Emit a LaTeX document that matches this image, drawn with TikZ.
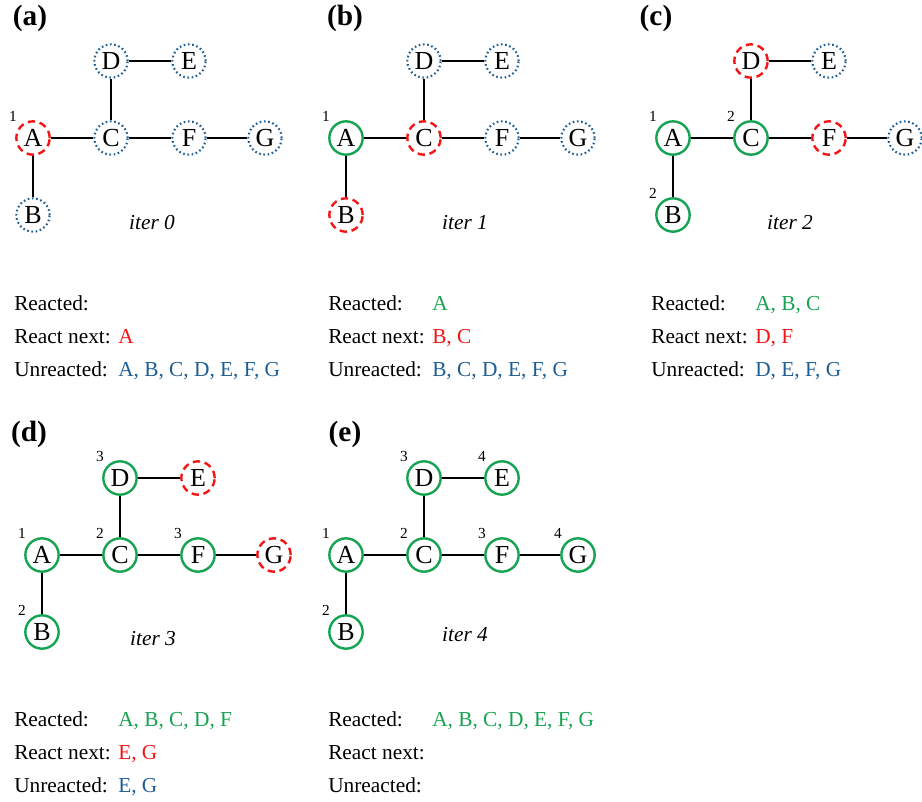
\documentclass[tikz,border=0pt]{standalone}
\usepackage{fontspec}
\setmainfont{Liberation Serif}
\usepackage{xcolor}
\usepackage{tikz}
\usetikzlibrary{positioning}

\definecolor{rxgreen}{RGB}{22,163,82}
\definecolor{rxred}{RGB}{242,22,22}
\definecolor{rxblue}{RGB}{30,94,148}

% one reaction tree: #1 = name prefix, #2..#8 = styles of A..G
\newcommand{\rxtree}[8]{%
  \node[#2] (#1A) at (0,0) {A};
  \node[#3] (#1B) at (0,77) {B};
  \node[#4] (#1C) at (78,0) {C};
  \node[#5] (#1D) at (78,-77) {D};
  \node[#6] (#1E) at (156,-77) {E};
  \node[#7] (#1F) at (156,0) {F};
  \node[#8] (#1G) at (232,0) {G};
  \draw[bond] (#1A) -- (#1B) (#1A) -- (#1C) (#1C) -- (#1D)
              (#1D) -- (#1E) (#1C) -- (#1F) (#1F) -- (#1G);
}

% status list under a tree: #1 = prefix, #2 reacted, #3 react next, #4 unreacted
\newcommand{\rxlist}[4]{%
  \node[row] (#1r1) at (0,6) {Reacted:};
  \node[row] (#1r2) at (0,39) {React next:};
  \node[row] (#1r3) at (0,72) {Unreacted:};
  \node[row, text=rxgreen] (#1v1) at (104,6) {#2};
  \node[row, text=rxred] (#1v2) at (104,39) {#3};
  \node[row, text=rxblue] (#1v3) at (104,72) {#4};
}

\begin{document}
\begin{tikzpicture}[x=0.75pt, y=-0.75pt,
  every node/.style={font=\fontsize{16}{18}\selectfont},
  atom/.style={circle, inner sep=0pt, minimum size=25pt, line width=1.8pt,
    font=\fontsize{19.5}{20}\selectfont},
  reacted/.style={atom, draw=rxgreen},
  nextup/.style={atom, draw=rxred, dash pattern=on 5.5pt off 3.5pt},
  unreacted/.style={atom, draw=rxblue, line width=1.6pt, dash pattern=on 1.2pt off 2pt},
  num/.style={font=\fontsize{11.5}{12}\selectfont, inner sep=1pt},
  lab/.style={label={[num, label distance=2pt]135:#1}},
  bond/.style={line width=1.5pt},
  panel/.style={font=\bfseries\fontsize{22}{24}\selectfont},
  iter/.style={font=\itshape\fontsize{16}{18}\selectfont},
  row/.style={anchor=base west, inner sep=0pt}]

  \clip (0,0) rectangle (922,801);

  % panel letters
  \node[panel] (pa) at (30,18) {(a)};
  \node[panel] (pb) at (345,18) {(b)};
  \node[panel] (pc) at (656,18) {(c)};
  \node[panel] (pd) at (29,434) {(d)};
  \node[panel] (pe) at (345,434) {(e)};

  % (a) iter 0
  \begin{scope}[shift={(33,138)}]
    \rxtree{a}{nextup,lab=1}{unreacted}{unreacted}{unreacted}{unreacted}{unreacted}{unreacted}
    \node[iter] (ai) at (119,85) {iter 0};
  \end{scope}
  \begin{scope}[shift={(14,304)}]
    \rxlist{a}{}{A}{A, B, C, D, E, F, G}
  \end{scope}

  % (b) iter 1
  \begin{scope}[shift={(346,138)}]
    \rxtree{b}{reacted,lab=1}{nextup}{nextup}{unreacted}{unreacted}{unreacted}{unreacted}
    \node[iter] (bi) at (119,85) {iter 1};
  \end{scope}
  \begin{scope}[shift={(328,304)}]
    \rxlist{b}{A}{B, C}{B, C, D, E, F, G}
  \end{scope}

  % (c) iter 2
  \begin{scope}[shift={(673,138)}]
    \rxtree{c}{reacted,lab=1}{reacted,lab=2}{reacted,lab=2}{nextup}{unreacted}{nextup}{unreacted}
    \node[iter] (ci) at (117,85) {iter 2};
  \end{scope}
  \begin{scope}[shift={(651,304)}]
    \rxlist{c}{A, B, C}{D, F}{D, E, F, G}
  \end{scope}

  % (d) iter 3
  \begin{scope}[shift={(42,555)}]
    \rxtree{d}{reacted,lab=1}{reacted,lab=2}{reacted,lab=2}{reacted,lab=3}{nextup}{reacted,lab=3}{nextup}
    \node[iter] (di) at (111,84) {iter 3};
  \end{scope}
  \begin{scope}[shift={(14,720)}]
    \rxlist{d}{A, B, C, D, F}{E, G}{E, G}
  \end{scope}

  % (e) iter 4
  \begin{scope}[shift={(346,555)}]
    \rxtree{e}{reacted,lab=1}{reacted,lab=2}{reacted,lab=2}{reacted,lab=3}{reacted,lab=4}{reacted,lab=3}{reacted,lab=4}
    \node[iter] (ei) at (119,80) {iter 4};
  \end{scope}
  \begin{scope}[shift={(328,720)}]
    \rxlist{e}{A, B, C, D, E, F, G}{}{}
  \end{scope}

\end{tikzpicture}
\end{document}
